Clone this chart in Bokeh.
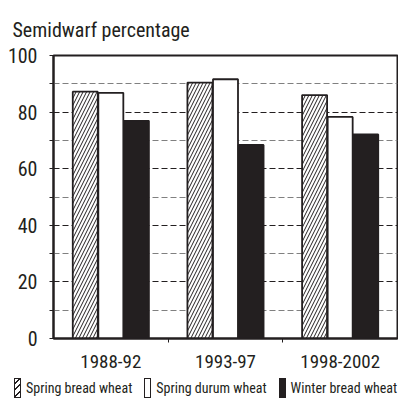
from bokeh.plotting import figure
from bokeh.layouts import column
from bokeh.models import Range1d, FixedTicker, ColumnDataSource, Div
from bokeh.transform import dodge
from bokeh.embed import file_html
from bokeh.resources import INLINE

periods = ["1988-92", "1993-97", "1998-2002"]
spring_bread = [87.2, 90.4, 86.0]
spring_durum = [86.8, 91.6, 78.3]
winter_bread = [76.9, 68.4, 72.1]
series_names = ["Spring bread wheat", "Spring durum wheat", "Winter bread wheat"]
y_ticks = [0, 20, 40, 60, 80, 100]
y_minor = [10, 30, 50, 70, 90]

FONT = "Roboto Condensed"
INK = "#231f20"

pos = [i + 0.5 for i in range(len(periods))]
src = ColumnDataSource(dict(x=pos, sb=spring_bread, sd=spring_durum, wb=winter_bread))

p = figure(width=398, height=376, output_backend="svg", toolbar_location=None,
           x_range=Range1d(0, 3), y_range=Range1d(0, 100),
           min_border_left=53, min_border_right=1, min_border_top=55, min_border_bottom=38)

p.title.text = "Semidwarf percentage"
p.title.text_font = FONT
p.title.text_font_size = "20px"
p.title.text_font_style = "normal"
p.title.text_color = INK
p.title.align = "left"
p.title.offset = -41
p.title.standoff = 28

w = 0.218
styles = [dict(fill_color="white", line_color=INK, line_width=1.8,
               hatch_pattern="/", hatch_color=INK, hatch_scale=7, hatch_weight=1),
          dict(fill_color="white", line_color=INK, line_width=1.8),
          dict(fill_color=INK, line_color=INK, line_width=1.8)]
cols = ["sb", "sd", "wb"]
offsets = [-0.223, 0.0, 0.223]
for c, off, st in zip(cols, offsets, styles):
    p.vbar(x=dodge("x", off, range=p.x_range), top=c, width=w, source=src, **st)

p.outline_line_color = INK
p.outline_line_width = 2
p.outline_line_alpha = 1

# y axis
p.yaxis.ticker = FixedTicker(ticks=y_ticks, minor_ticks=y_minor)
p.yaxis.axis_line_color = INK
p.yaxis.axis_line_width = 2
p.yaxis.major_tick_in = 0
p.yaxis.major_tick_out = 4
p.yaxis.minor_tick_in = 0
p.yaxis.minor_tick_out = 4
p.yaxis.major_tick_line_color = INK
p.yaxis.minor_tick_line_color = INK
p.yaxis.major_label_text_font = FONT
p.yaxis.major_label_text_font_size = "20px"
p.yaxis.major_label_text_color = INK
p.yaxis.major_label_standoff = 12

# x axis
p.xaxis.ticker = FixedTicker(ticks=pos, minor_ticks=[1, 2])
p.xaxis.major_label_overrides = {pos[i]: periods[i] for i in range(len(periods))}
p.xaxis.axis_line_color = INK
p.xaxis.axis_line_width = 2
p.xaxis.major_tick_line_color = None
p.xaxis.major_tick_in = 0
p.xaxis.major_tick_out = 4
p.xaxis.minor_tick_in = 0
p.xaxis.minor_tick_out = 4
p.xaxis.minor_tick_line_color = INK
p.xaxis.major_label_text_font = FONT
p.xaxis.major_label_text_font_size = "19px"
p.xaxis.major_label_text_color = INK
p.xaxis.major_label_standoff = 12

# grid
p.xgrid.visible = False
p.ygrid.ticker = FixedTicker(ticks=y_ticks, minor_ticks=y_minor)
p.ygrid.grid_line_color = INK
p.ygrid.grid_line_dash = "6 3"
p.ygrid.grid_line_width = 1
p.ygrid.minor_grid_line_color = "#808080"
p.ygrid.minor_grid_line_dash = "6 3"
p.ygrid.minor_grid_line_width = 1

# legend row below the chart
swatch_css = [
    f"background:repeating-linear-gradient(-45deg,#fff 0 3.5px,{INK} 3.5px 4.6px);",
    "background:#fff;",
    f"background:{INK};",
]
parts = []
for name, css in zip(series_names, swatch_css):
    parts.append(
        f'<span style="display:inline-flex;align-items:center;margin-right:12px;">'
        f'<span style="display:inline-block;width:7px;height:20px;border:1.5px solid {INK};{css}"></span>'
        f'<span style="margin-left:5px;">{name}</span></span>')
legend_html = (f'<div style="display:flex;align-items:center;height:23px;padding-left:14px;'
               f'font-family:\'{FONT}\';font-size:14px;color:{INK};white-space:nowrap;">'
               + "".join(parts) + '</div>')
legend = Div(text=legend_html, width=398, height=23, margin=0)

layout = column(p, legend, spacing=0)
open("out.html", "w").write(file_html(layout, INLINE))
